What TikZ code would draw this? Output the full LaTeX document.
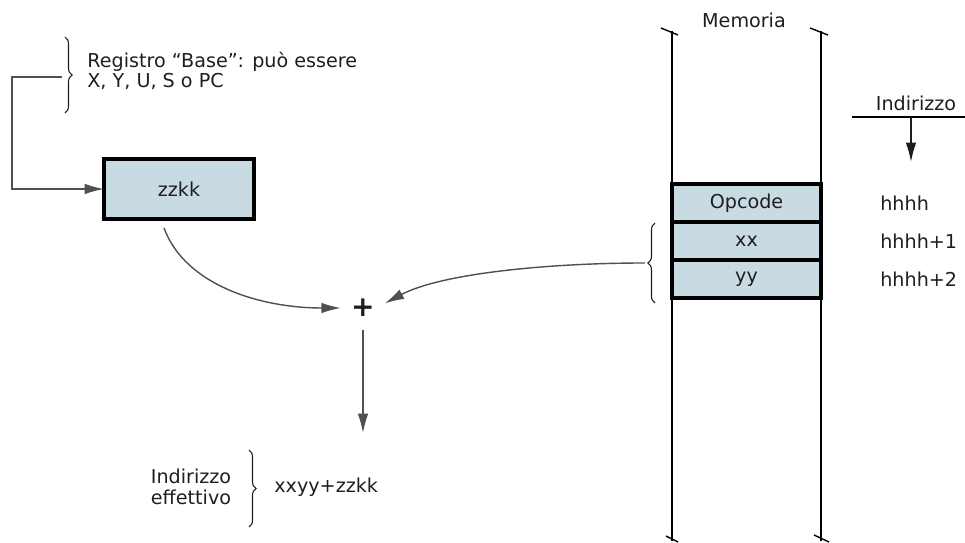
\documentclass[tikz,border=0pt]{standalone}
\usepackage{fontspec}
\setmainfont{DejaVu Sans}
\usetikzlibrary{arrows.meta,positioning,decorations.pathreplacing}
\definecolor{cellblue}{RGB}{200,218,226}
\definecolor{wirec}{RGB}{80,80,80}
\definecolor{ink}{RGB}{30,30,30}
\begin{document}
\begin{tikzpicture}[x=0.02cm, y=-0.02cm, >={Latex[length=11pt,width=6pt]},
  lbl/.style={font=\fontsize{10.9}{11.4}\selectfont, text=ink, inner sep=0pt},
  cell/.style={draw, line width=1.8pt, fill=cellblue, minimum width=2.98cm, minimum height=0.76cm, outer sep=0pt, lbl},
  wire/.style={draw=wirec, line width=0.8pt},
  pillar/.style={line width=1.7pt},
  curly/.style={decorate, decoration={brace, amplitude=4pt}, line width=0.6pt, ink}]
\useasboundingbox (0,0) rectangle (965,543);
\node[lbl, anchor=west, align=left] (basereg) at (87,71) {Registro ``Base'': può essere\\X, Y, U, S o PC};
\draw[curly] (65,37) -- (65,113);
\coordinate (basetip) at (62,77);
\node[cell, minimum width=3cm, minimum height=1.2cm] (zzkk) at (179,189) {zzkk};
\draw[wire,->] (basetip) -- (12,77) |- (zzkk.west);
\node[circle, minimum size=0.88cm, inner sep=0pt, text=ink, font=\bfseries\fontsize{16}{16}\selectfont] (plus) at (363,308) {+};
\coordinate (zzkkout) at (164,228);
\draw[wire,->] (zzkkout) .. controls (185,285) and (260,308) .. (plus.west);
\coordinate (effin) at (363,433);
\draw[wire,->] (plus.south) -- (effin);
\node[lbl, align=center, font=\fontsize{10.9}{12}\selectfont] (effname) at (191,487) {Indirizzo\\effettivo};
\draw[curly] (249,450) -- (249,527);
\node[lbl, anchor=west] (effval) at (274,487) {xxyy+zzkk};
\node[lbl] (memlbl) at (744,20) {Memoria};
\draw[pillar] (672,31) -- (672,541);
\draw[pillar] (821,31) -- (821,541);
\draw[line width=0.8pt] (661,28) -- (678,35);
\draw[line width=0.8pt] (810,28) -- (828,35);
\draw[line width=0.8pt] (666,536) -- (678,542);
\draw[line width=0.8pt] (814,535) -- (829,542);
\node[cell] (opcode) at (746.5,203) {Opcode};
\node[cell, below=0pt of opcode] (xx) {xx};
\node[cell, below=0pt of xx] (yy) {yy};
\draw[curly] (655,303) -- (655,223);
\coordinate (memtip) at (645,263);
\draw[wire,->] (memtip) .. controls (545,263) and (440,274) .. (plus.12);
\node[lbl] (addrlbl) at (916,103) {Indirizzo};
\draw[line width=0.7pt] (852,117) -- (965,117);
\coordinate (addrtop) at (911,117);
\coordinate (addrdown) at (911,162);
\draw[->, line width=0.8pt, ink] (addrtop) -- (addrdown);
\node[lbl, right=1.18cm of opcode] (hh0) {hhhh};
\node[lbl, right=1.18cm of xx] (hh1) {hhhh+1};
\node[lbl, right=1.18cm of yy] (hh2) {hhhh+2};
\end{tikzpicture}
\end{document}
